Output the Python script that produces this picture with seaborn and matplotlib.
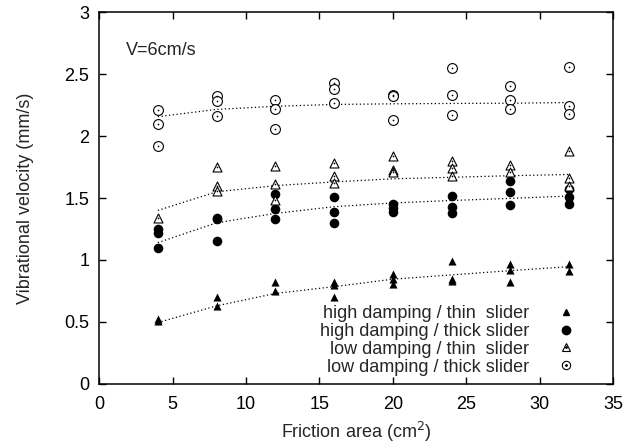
import matplotlib
matplotlib.use("Agg")
import matplotlib.pyplot as plt
import pandas as pd
import seaborn as sns
from matplotlib.lines import Line2D
from matplotlib.ticker import FormatStrFormatter, MultipleLocator

# friction area (cm^2) and vibrational velocity (mm/s)
hd_thin_x = [4, 4, 8, 8, 12, 12, 16, 16, 16, 20, 20, 20, 24, 24, 24, 28, 28, 28, 32, 32]
hd_thin_y = [0.52, 0.51, 0.70, 0.63, 0.82, 0.75, 0.82, 0.80, 0.70, 0.89, 0.85, 0.81,
             0.99, 0.85, 0.83, 0.97, 0.92, 0.82, 0.97, 0.91]

hd_thick_x = [4, 4, 4, 8, 8, 8, 12, 12, 12, 16, 16, 16, 20, 20, 20, 24, 24, 24, 28, 28, 28, 32, 32, 32]
hd_thick_y = [1.25, 1.22, 1.10, 1.34, 1.33, 1.15, 1.53, 1.41, 1.33, 1.51, 1.39, 1.30,
              1.45, 1.42, 1.39, 1.52, 1.43, 1.38, 1.64, 1.55, 1.44, 1.57, 1.51, 1.45]

ld_thin_x = [4, 8, 8, 8, 12, 12, 12, 16, 16, 16, 20, 20, 20, 24, 24, 24, 28, 28, 32, 32, 32]
ld_thin_y = [1.34, 1.75, 1.60, 1.56, 1.76, 1.61, 1.48, 1.78, 1.68, 1.62, 1.84, 1.73, 1.71,
             1.80, 1.74, 1.68, 1.77, 1.71, 1.88, 1.66, 1.60]

ld_thick_x = [4, 4, 4, 8, 8, 8, 12, 12, 12, 16, 16, 16, 20, 20, 20, 24, 24, 24, 28, 28, 28, 32, 32, 32]
ld_thick_y = [2.21, 2.10, 1.92, 2.32, 2.28, 2.16, 2.29, 2.22, 2.06, 2.43, 2.38, 2.27,
              2.33, 2.32, 2.13, 2.55, 2.33, 2.17, 2.40, 2.29, 2.22, 2.56, 2.24, 2.18]

# dotted trend curves at each friction area
trend_x = [4, 8, 12, 16, 20, 24, 28, 32]
hd_thin_trend = [0.495, 0.63, 0.73, 0.785, 0.845, 0.88, 0.914, 0.946]
hd_thick_trend = [1.14, 1.30, 1.376, 1.43, 1.46, 1.48, 1.497, 1.516]
ld_thin_trend = [1.40, 1.55, 1.60, 1.63, 1.655, 1.667, 1.68, 1.69]
ld_thick_trend = [2.156, 2.215, 2.24, 2.255, 2.26, 2.263, 2.265, 2.27]

labels = ["high damping / thin  slider", "high damping / thick slider",
          "low damping / thin  slider", "low damping / thick slider"]

sns.set_style("ticks")
plt.rcParams["font.family"] = ["Liberation Sans", "DejaVu Sans"]
plt.rcParams["font.size"] = 13

fig = plt.figure(figsize=(6.27, 4.48), dpi=100)
ax = fig.add_axes([0.158, 0.143, 0.820, 0.830])

series = [
    (hd_thin_x, hd_thin_y, hd_thin_trend, dict(marker="^", s=34, color="black", linewidth=0)),
    (hd_thick_x, hd_thick_y, hd_thick_trend, dict(marker="o", s=48, color="black", linewidth=0)),
    (ld_thin_x, ld_thin_y, ld_thin_trend,
     dict(marker="^", s=42, facecolor="white", edgecolor="black", linewidth=0.8)),
    (ld_thick_x, ld_thick_y, ld_thick_trend,
     dict(marker="o", s=50, facecolor="white", edgecolor="black", linewidth=0.8)),
]

for x, y, trend, kw in series:
    df = pd.DataFrame({"x": x, "y": y})
    tr = pd.DataFrame({"x": trend_x, "y": trend})
    sns.lineplot(data=tr, x="x", y="y", ax=ax, color="black", linewidth=0.9,
                 linestyle=(0, (1, 2)), zorder=1)
    sns.scatterplot(data=df, x="x", y="y", ax=ax, zorder=3, **kw)
    if kw.get("facecolor") == "white":
        sns.scatterplot(data=df, x="x", y="y", ax=ax, marker="o", s=1.5,
                        color="black", linewidth=0, zorder=4)

ax.set_xlim(0, 35)
ax.set_ylim(0, 3)
ax.xaxis.set_major_locator(MultipleLocator(5))
ax.yaxis.set_major_locator(MultipleLocator(0.5))
ax.yaxis.set_major_formatter(FormatStrFormatter("%g"))
ax.tick_params(direction="in", top=True, right=True, length=5, width=1,
               labelsize=13, colors="black")
ax.tick_params(axis="x", pad=9)
ax.tick_params(axis="y", pad=7)
for sp in ax.spines.values():
    sp.set_linewidth(1.1)
    sp.set_color("black")
ax.set_xlabel("Friction area (cm$^2$)", fontsize=13, labelpad=5)
ax.set_ylabel("Vibrational velocity (mm/s)", fontsize=13, labelpad=22)
ax.text(1.8, 2.69, "V=6cm/s", fontsize=13, va="center", ha="left")

handles = [
    Line2D([], [], marker="^", ls="none", color="black", markersize=5),
    Line2D([], [], marker="o", ls="none", color="black", markersize=6),
    (Line2D([], [], marker="^", ls="none", mfc="white", mec="black", markersize=6, mew=0.8),
     Line2D([], [], marker="o", ls="none", color="black", markersize=1)),
    (Line2D([], [], marker="o", ls="none", mfc="white", mec="black", markersize=6, mew=0.8),
     Line2D([], [], marker="o", ls="none", color="black", markersize=1)),
]
leg = ax.legend(handles, labels, loc="lower right", bbox_to_anchor=(0.959, -0.019),
                frameon=False, markerfirst=False, fontsize=13, handlelength=1.2,
                handletextpad=1.45, labelspacing=0.05, borderpad=0.35)
for t in leg.get_texts():
    t.set_ha("right")
leg._legend_box.align = "right"

fig.savefig("out.png", dpi=100)
